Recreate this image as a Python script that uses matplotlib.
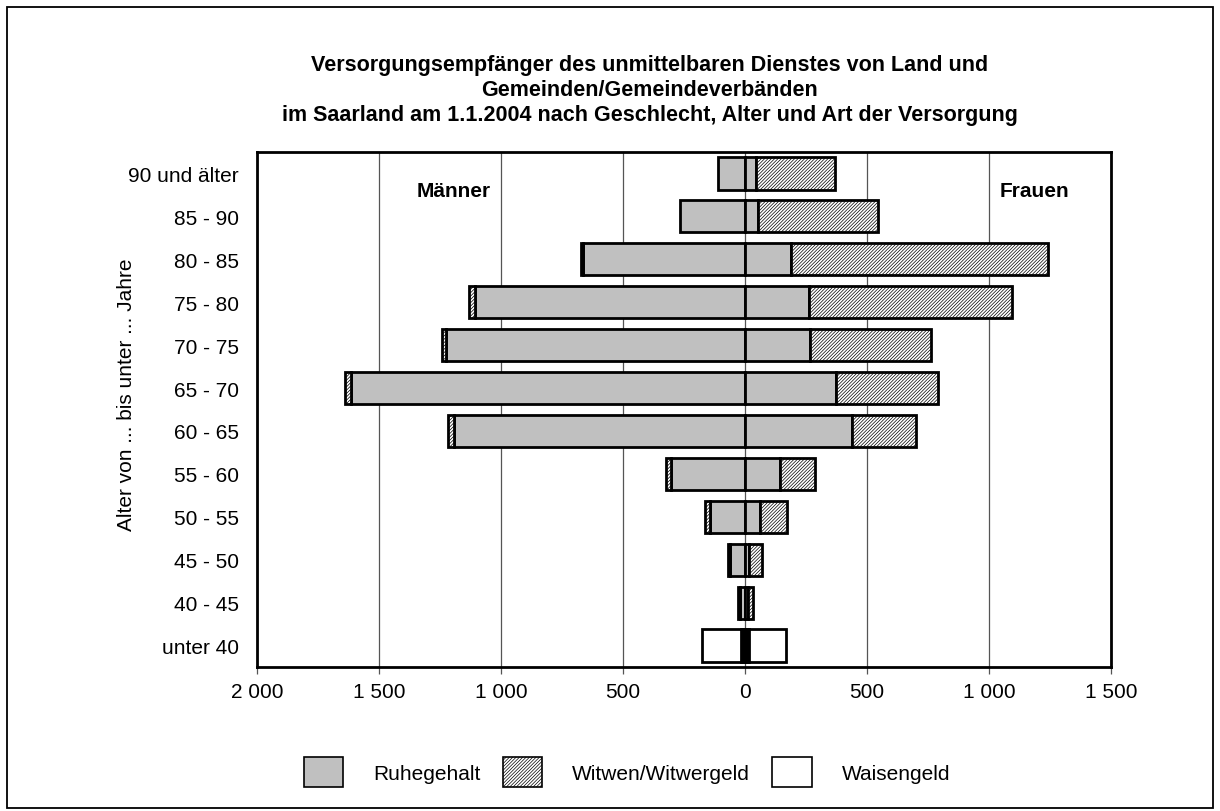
import numpy as np
import matplotlib
matplotlib.use("Agg")
import matplotlib.pyplot as plt
from matplotlib.patches import Patch, Rectangle

plt.rcParams['font.family'] = ['Liberation Sans', 'DejaVu Sans']
plt.rcParams['hatch.linewidth'] = 0.5

# age groups, bottom to top
ages = ['unter 40', '40 - 45', '45 - 50', '50 - 55', '55 - 60', '60 - 65',
        '65 - 70', '70 - 75', '75 - 80', '80 - 85', '85 - 90', '90 und älter']

# Männer
m_ruhe = [8, 22, 60, 142, 304, 1193, 1615, 1224, 1107, 665, 266, 112]
m_witwen = [8, 5, 8, 22, 20, 24, 24, 18, 24, 8, 0, 0]
m_waisen = [160, 0, 0, 0, 0, 0, 0, 0, 0, 0, 0, 0]

# Frauen
f_ruhe = [8, 12, 15, 61, 143, 439, 373, 266, 262, 189, 53, 45]
f_witwen = [8, 22, 55, 111, 144, 261, 418, 496, 832, 1053, 492, 324]
f_waisen = [152, 0, 0, 0, 0, 0, 0, 0, 0, 0, 0, 0]

xticks = [-2000, -1500, -1000, -500, 0, 500, 1000, 1500]
xticklabels = ['2 000', '1 500', '1 000', '500', '0', '500', '1 000', '1 500']

legend_labels = ['Ruhegehalt', 'Witwen/Witwergeld', 'Waisengeld']

styles = [dict(facecolor='#c0c0c0'),
          dict(facecolor='white', hatch='//////////'),
          dict(facecolor='white')]

fs = 15

fig = plt.figure(figsize=(12.2, 8.12), dpi=100)
ax = fig.add_axes([0.2107, 0.1773, 0.70, 0.6343])

y = np.arange(len(ages))
bh = 0.75
lw = 2.0

for sign, parts in [(-1, [m_ruhe, m_witwen, m_waisen]), (1, [f_ruhe, f_witwen, f_waisen])]:
    cum = np.zeros(len(ages))
    for vals, st in zip(parts, styles):
        vals = np.array(vals, dtype=float)
        mask = vals > 0
        ax.barh(y[mask], sign * vals[mask], left=sign * cum[mask], height=bh,
                edgecolor='black', linewidth=lw, zorder=3, **st)
        cum += vals

ax.set_xlim(-2000, 1500)
ax.set_ylim(-0.5, 11.5)
ax.set_xticks(xticks)
ax.set_xticklabels(xticklabels, fontsize=fs)
ax.set_yticks(y)
ax.set_yticklabels(ages, fontsize=fs)
ax.tick_params(axis='y', length=0, pad=13)
ax.tick_params(axis='x', length=5, width=0.9, color='#555555', pad=6)
ax.xaxis.grid(True, color='#555555', linewidth=0.9, zorder=0)
ax.set_axisbelow(True)
for s in ax.spines.values():
    s.set_linewidth(2.0)

ax.set_ylabel('Alter von ... bis unter ... Jahre', fontsize=fs)
ax.yaxis.set_label_coords(-0.142, 0.53)

ax.text(-1193, 10.6, 'Männer', fontsize=fs, fontweight='bold', ha='center', va='center')
ax.text(1184, 10.6, 'Frauen', fontsize=fs, fontweight='bold', ha='center', va='center')

fig.text(650 / 1220, 1 - 90 / 812,
         'Versorgungsempfänger des unmittelbaren Dienstes von Land und\n'
         'Gemeinden/Gemeindeverbänden\n'
         'im Saarland am 1.1.2004 nach Geschlecht, Alter und Art der Versorgung',
         ha='center', va='center', fontsize=15.5, fontweight='bold', linespacing=1.25)

handles = [Patch(edgecolor='black', linewidth=1.2, **st) for st in styles]
fig.legend(handles, legend_labels, loc='center', bbox_to_anchor=(627 / 1220, 1 - 773 / 812),
           ncol=3, frameon=False, fontsize=fs, handlelength=1.9, handleheight=1.9,
           handletextpad=1.45, columnspacing=1.05)

fig.patches.append(Rectangle((0.006, 0.004), 0.988, 0.986, transform=fig.transFigure,
                             fill=False, edgecolor='black', linewidth=1.3))

fig.savefig('out.png', dpi=100)
